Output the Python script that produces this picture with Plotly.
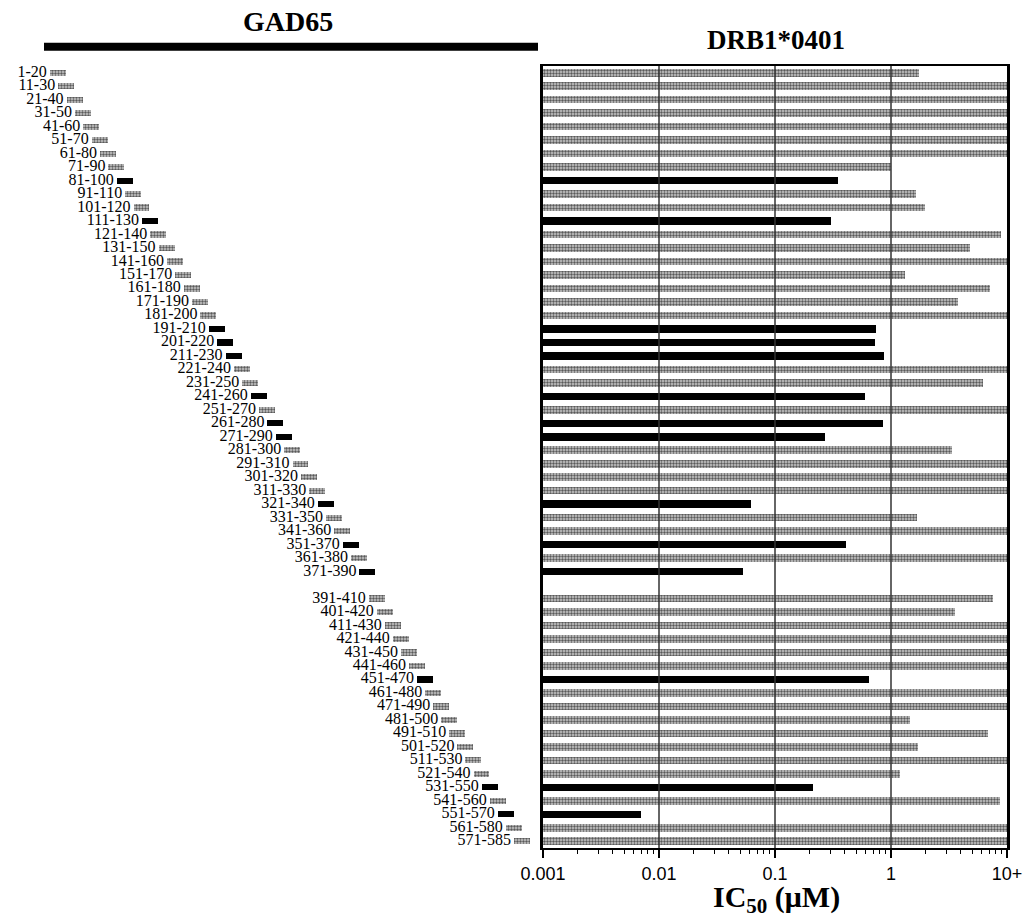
import plotly.graph_objects as go

# GAD65 overlapping peptides (residue ranges) and their DRB1*0401 binding IC50 (uM)
peptides = [
    "1-20", "11-30", "21-40", "31-50", "41-60", "51-70", "61-80", "71-90",
    "81-100", "91-110", "101-120", "111-130", "121-140", "131-150", "141-160",
    "151-170", "161-180", "171-190", "181-200", "191-210", "201-220", "211-230",
    "221-240", "231-250", "241-260", "251-270", "261-280", "271-290", "281-300",
    "291-310", "301-320", "311-330", "321-340", "331-350", "341-360", "351-370",
    "361-380", "371-390",
    "391-410", "401-420", "411-430", "421-440", "431-450", "441-460", "451-470",
    "461-480", "471-490", "481-500", "491-510", "501-520", "511-530", "521-540",
    "531-550", "541-560", "551-570", "561-580", "571-585",
]
ic50_um = [
    1.75, 10, 10, 10, 10, 10, 10, 1.0,
    0.35, 1.64, 1.98, 0.305, 8.8, 4.8, 10,
    1.33, 7.1, 3.75, 10, 0.745, 0.73, 0.865,
    10, 6.2, 0.59, 10, 0.85, 0.27, 3.36,
    10, 10, 10, 0.061, 1.66, 10, 0.405,
    10, 0.052,
    7.6, 3.58, 10, 10, 10, 10, 0.64,
    10, 10, 1.46, 6.8, 1.7, 10, 1.2,
    0.21, 8.7, 0.006, 10, 10,
]
axis_ticks = [0.001, 0.01, 0.1, 1, 10]
axis_tick_text = ["0.001", "0.01", "0.1", "1", "10+"]

BINDER_CUTOFF = 1.0          # uM; peptides below this are drawn as binders
GAP_AFTER = "371-390"        # 381-400 was not tested, leave an empty row

W, H = 1031, 918
def px(x):
    return x / W
def py(y):
    return 1 - y / H

# row slot for each peptide (one blank slot after GAP_AFTER)
gap_idx = peptides.index(GAP_AFTER)
slots = [i if i <= gap_idx else i + 1 for i in range(len(peptides))]
binder = [v < BINDER_CUTOFF for v in ic50_um]

# staircase indent of the left-hand peptide map (in pixel units of xaxis2)
def indent(slot):
    if slot <= gap_idx:
        return 50 + 8.4 * slot
    return 370 + 8.1 * (slot - gap_idx - 2)

GRAY_PATTERN = dict(shape=".", fgcolor="#5a5a5a", bgcolor="#cdcdcd",
                    size=3, solidity=0.5)
plot_left, plot_right, plot_top, plot_bottom = 543, 1007, 66, 848
low_ic50 = axis_ticks[0]

fig = go.Figure()

for is_binder in (False, True):
    ys = [s for s, b in zip(slots, binder) if b == is_binder]
    xs = [v for v, b in zip(ic50_um, binder) if b == is_binder]
    marker = dict(color="black", line=dict(width=0)) if is_binder else \
        dict(color="#b0b0b0", pattern=GRAY_PATTERN, line=dict(width=0))
    # IC50 bars
    fig.add_trace(go.Bar(
        x=xs, y=ys, base=low_ic50, orientation="h", width=0.56,
        marker=marker, xaxis="x", yaxis="y", showlegend=False,
        hoverinfo="skip",
    ))
    # small marker bars beside each peptide label
    fig.add_trace(go.Bar(
        x=[16] * len(ys), y=ys, base=[indent(s) for s in ys],
        orientation="h", width=0.46, marker=marker,
        xaxis="x2", yaxis="y2", showlegend=False, hoverinfo="skip",
    ))

fig.add_trace(go.Scatter(
    x=[indent(s) - 3 for s in slots], y=slots, text=peptides,
    mode="text", textposition="middle left",
    textfont=dict(family="Liberation Serif", size=16, color="black"),
    xaxis="x2", yaxis="y2", showlegend=False, cliponaxis=False,
    hoverinfo="skip",
))

n_slots = len(peptides) + 1
y_range = [n_slots - 0.5, -0.5]
y_dom = [py(plot_bottom), py(plot_top)]

minor_vals = [k * 10 ** e for e in range(-3, 1) for k in range(2, 10)]

fig.update_layout(
    template="none",
    width=W, height=H, autosize=False,
    margin=dict(l=0, r=0, t=0, b=0, pad=0, autoexpand=False),
    paper_bgcolor="white", plot_bgcolor="white",
    showlegend=False,
    bargap=0, barmode="overlay",
    xaxis=dict(
        type="log", range=[-3, 1], domain=[px(plot_left), px(plot_right)],
        tickvals=axis_ticks, ticktext=axis_tick_text,
        ticks="outside", ticklen=8, tickwidth=1.5, tickcolor="black",
        tickfont=dict(family="Liberation Sans", size=18, color="black"),
        showgrid=False,
        showline=True, linecolor="black", linewidth=2, mirror=True,
        minor=dict(tickvals=minor_vals, ticks="outside", ticklen=4,
                   tickwidth=1, tickcolor="black", showgrid=False),
        zeroline=False, anchor="y", automargin=False,
    ),
    yaxis=dict(
        range=y_range, domain=y_dom, showticklabels=False, ticks="",
        showgrid=False, zeroline=False,
        showline=True, linecolor="black", linewidth=2.5, mirror=True,
        anchor="x", automargin=False,
    ),
    xaxis2=dict(
        range=[0, plot_left], domain=[0, px(plot_left - 2)],
        visible=False, anchor="y2", automargin=False,
    ),
    yaxis2=dict(
        range=y_range, domain=y_dom, visible=False, anchor="x2",
        automargin=False,
    ),
)

# decade gridlines drawn over the bars
for v in axis_ticks[1:-1]:
    fig.add_shape(type="line", xref="x", yref="y domain",
                  x0=v, x1=v, y0=0, y1=1, layer="above",
                  line=dict(color="#333333", width=1.5))

# protein header bar with title
fig.add_shape(type="line", xref="paper", yref="paper",
              x0=px(44), x1=px(538), y0=py(46.7), y1=py(46.7),
              line=dict(color="black", width=8))
fig.add_annotation(text="<b>GAD65</b>", xref="paper", yref="paper",
                   x=px(288), y=py(22), xanchor="center", yanchor="middle",
                   showarrow=False,
                   font=dict(family="Liberation Serif", size=28, color="black"))
fig.add_annotation(text="<b>DRB1*0401</b>", xref="paper", yref="paper",
                   x=px(776), y=py(40), xanchor="center", yanchor="middle",
                   showarrow=False,
                   font=dict(family="Liberation Serif", size=27, color="black"))
fig.add_annotation(text="<b>IC<sub>50</sub> (μM)</b>", xref="paper", yref="paper",
                   x=px(776), y=py(899), xanchor="center", yanchor="middle",
                   showarrow=False,
                   font=dict(family="Liberation Serif", size=30, color="black"))

fig.write_html("out.html")
